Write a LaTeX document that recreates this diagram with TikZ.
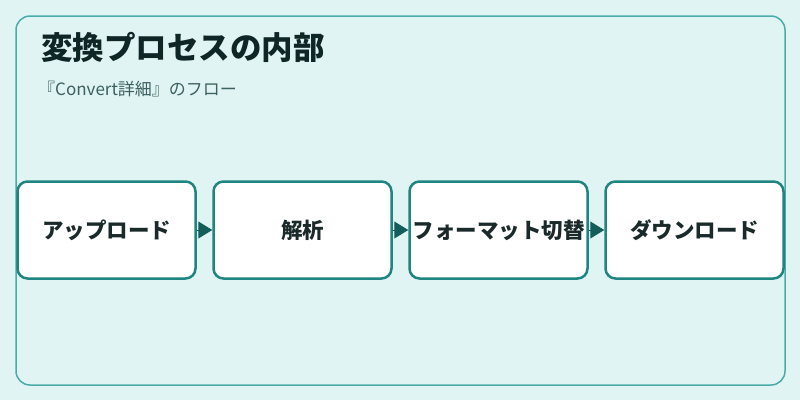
\documentclass[tikz,border=0pt]{standalone}
\usepackage{fontspec}
\setmainfont{Noto Sans CJK JP}
\usetikzlibrary{positioning, arrows.meta}

\definecolor{bgcyan}{HTML}{E0F4F3}
\definecolor{framecol}{HTML}{4AACAA}
\definecolor{boxcol}{HTML}{1E8580}
\definecolor{arrowcol}{HTML}{135E5A}
\definecolor{titlecol}{HTML}{0F2626}
\definecolor{subcol}{HTML}{3D6060}
\definecolor{textcol}{HTML}{1A2A2A}

\begin{document}
\begin{tikzpicture}[x=1pt, y=-1pt]

\tikzstyle{step_style} = [rectangle, draw=boxcol, fill=white, line width=2.5, rounded corners=10, minimum width=178, minimum height=97, inner sep=0, text=textcol, font=\fontsize{21.5}{21.5}\selectfont\bfseries]
\tikzstyle{edge_style} = [color=arrowcol, line width=1, -{Triangle[length=14pt, width=17pt]}]

\fill[bgcyan] (0, 0) rectangle (800, 400);
\draw[framecol, line width=1.5, rounded corners=14] (16, 16) rectangle (785, 385);

\node[anchor=base west, inner sep=0, text=titlecol, font=\fontsize{31.5}{31.5}\selectfont\bfseries] (title) at (41, 59) {変換プロセスの内部};
\node[anchor=base west, inner sep=0, text=subcol, font=\fontsize{17}{17}\selectfont] (subtitle) at (38, 95) {『Convert詳細』のフロー};

\node[step_style] (s1) at (106.5, 230) {\raisebox{-2pt}{アップロード}};
\node[step_style] (s2) at (302.5, 230) {\raisebox{-2pt}{解析}};
\node[step_style] (s3) at (498.5, 230) {\raisebox{-2pt}{フォーマット切替}};
\node[step_style] (s4) at (694.5, 230) {\raisebox{-2pt}{ダウンロード}};

\draw[edge_style]  (s1) edge (s2);
\draw[edge_style]  (s2) edge (s3);
\draw[edge_style]  (s3) edge (s4);

\end{tikzpicture}
\end{document}
